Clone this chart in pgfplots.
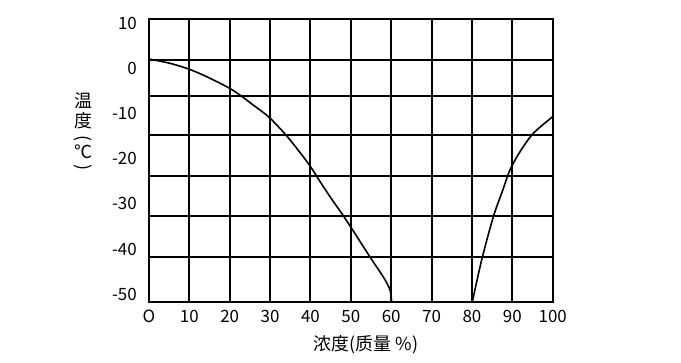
\documentclass[border=0pt]{standalone}
\usepackage{fontspec}
\setmainfont{Noto Sans CJK JP}
\usepackage{graphicx}
\usepackage{pgfplots}
\pgfplotsset{compat=1.18}
\begin{document}
\begin{tikzpicture}
\useasboundingbox (-149bp,-61.3bp) rectangle (532bp,301.7bp);
\begin{axis}[
  at={(0,0)}, anchor=south west,
  scale only axis, width=403.7bp, height=282.7bp,
  xmin=0, xmax=100, ymin=-51.66, ymax=10.95,
  axis line style={line width=2bp},
  grid=major, grid style={black, line width=2bp},
  tick style={draw=none},
  xtick={0,10,...,100},
  xticklabels={O,10,20,30,40,50,60,70,80,90,100},
  xticklabel style={font=\fontsize{17}{17}\selectfont, inner sep=0pt, anchor=north, yshift=-8bp},
  ytick={1.98,-6.10,-14.74,-23.77,-32.7,-41.78},
  yticklabels={},
  extra y ticks={10,0,-10,-20,-30,-40,-50},
  extra y tick labels={10,0,-10,-20,-30,-40,-50},
  extra y tick style={grid=none, yticklabel style={font=\fontsize{17}{17}\selectfont, inner sep=0pt, anchor=east, xshift=-12bp}},
  clip=false,
]
\addplot[black, line width=1.6bp, smooth] coordinates {
(0,2.09) (5.2,1.14) (10,-0.19) (14.3,-1.83) (19.7,-4.26) (22.5,-5.88) (25.8,-8.1)
(29.6,-10.69) (33.7,-14.52) (36.6,-17.69) (39.9,-21.6) (42.4,-25.1) (45.3,-29.0)
(48.8,-33.5) (54.8,-41.83) (58.0,-46.12) (59.7,-49.07) (60.1,-51.66)};
\addplot[black, line width=1.6bp, smooth] coordinates {
(80.1,-51.66) (82.4,-42.43) (85.3,-32.84) (87.8,-26.54) (89.4,-22.49) (91.9,-18.44)
(95.2,-14.36) (100,-10.69)};
\node[inner sep=0pt, font=\fontsize{18}{18}\selectfont] at (rel axis cs:-0.1635,0.602)
  {\shortstack{温\\[1pt]度\\[3pt]\rotatebox{-90}{(}\\[1pt]℃\\[2pt]\rotatebox{-90}{)}}};
\node[inner sep=0pt, font=\fontsize{18}{18}\selectfont] at (rel axis cs:0.5375,-0.152) {浓度(质量 \%)};
\end{axis}
\end{tikzpicture}
\end{document}
